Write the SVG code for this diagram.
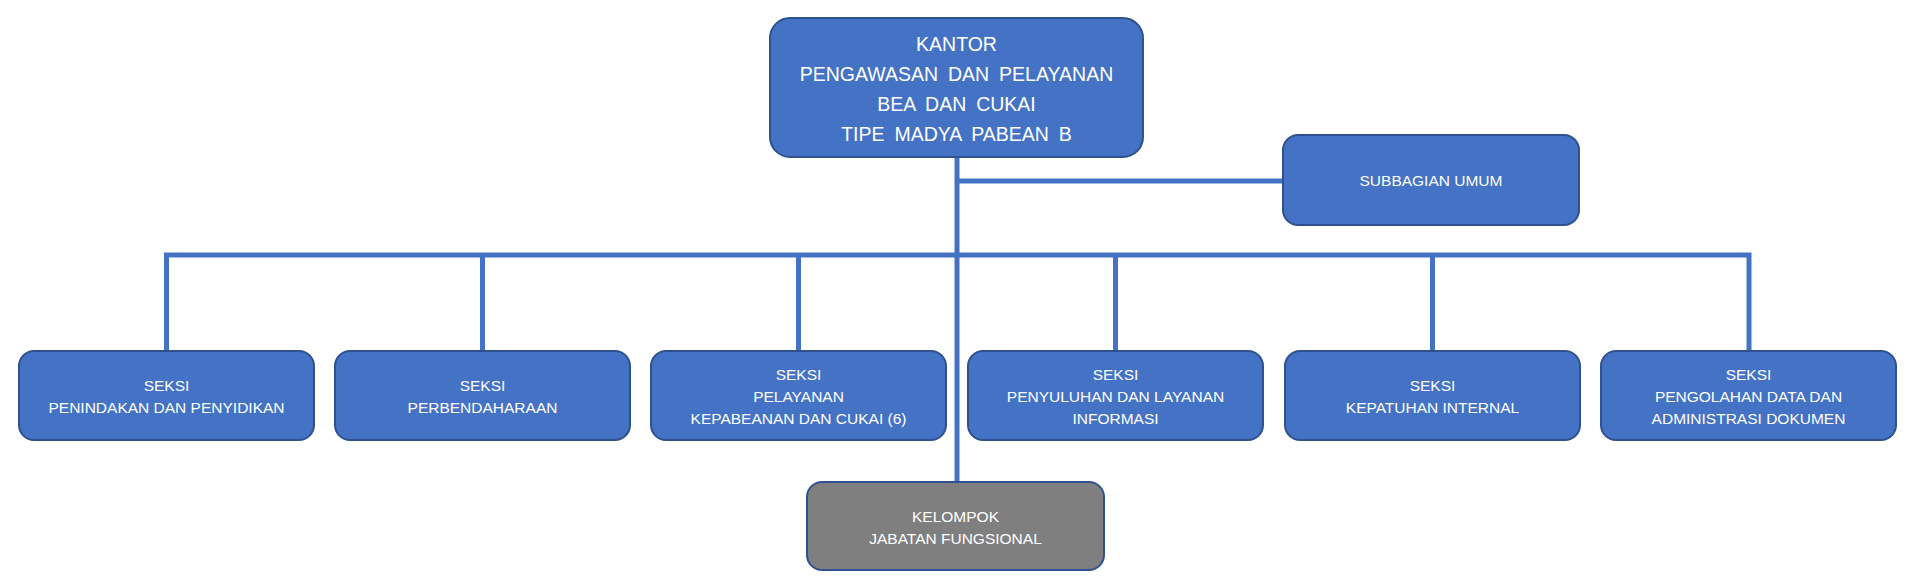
<svg xmlns="http://www.w3.org/2000/svg" width="1919" height="587" viewBox="0 0 1919 587">
<style>
.box{fill:#4472C4;stroke:#2F528F;stroke-width:2}
.gray{fill:#7F7F7F;stroke:#2F528F;stroke-width:2}
.t{font-family:"Liberation Sans",Arial,sans-serif;font-size:15.5px;fill:#FFFFFF;text-anchor:middle}
.big{font-family:"Liberation Sans",Arial,sans-serif;font-size:19.5px;fill:#FFFFFF;text-anchor:middle;word-spacing:4.5px}
.c{fill:none;stroke:#4472C4;stroke-width:5}
</style>
<rect width="1919" height="587" fill="#FFFFFF"/>
<g id="connectors">
<path class="c" d="M957 157V482"/>
<path class="c" d="M957 181H1283"/>
<path class="c" d="M166.5 351V255H1749V351"/>
<path class="c" d="M482.5 255V351M798.5 255V351M1115.5 255V351M1432.5 255V351"/>
</g>
<g id="kantor">
<rect class="box" x="770" y="18" width="373" height="139" rx="20"/>
<text class="big" x="956.5" y="51">KANTOR</text>
<text class="big" x="956.5" y="81">PENGAWASAN DAN PELAYANAN</text>
<text class="big" x="956.5" y="111">BEA DAN CUKAI</text>
<text class="big" x="956.5" y="141">TIPE MADYA PABEAN B</text>
</g>
<g id="subbagian-umum">
<rect class="box" x="1283" y="135" width="296" height="90" rx="15"/>
<text class="t" x="1431" y="186">SUBBAGIAN UMUM</text>
</g>
<g id="seksi-penindakan">
<rect class="box" x="19" y="351" width="295" height="89" rx="15"/>
<text class="t" x="166.5" y="390.5">SEKSI</text>
<text class="t" x="166.5" y="412.5">PENINDAKAN DAN PENYIDIKAN</text>
</g>
<g id="seksi-perbendaharaan">
<rect class="box" x="335" y="351" width="295" height="89" rx="15"/>
<text class="t" x="482.5" y="390.5">SEKSI</text>
<text class="t" x="482.5" y="412.5">PERBENDAHARAAN</text>
</g>
<g id="seksi-pelayanan">
<rect class="box" x="651" y="351" width="295" height="89" rx="15"/>
<text class="t" x="798.5" y="379.5">SEKSI</text>
<text class="t" x="798.5" y="401.5">PELAYANAN</text>
<text class="t" x="798.5" y="423.5">KEPABEANAN DAN CUKAI (6)</text>
</g>
<g id="seksi-penyuluhan">
<rect class="box" x="968" y="351" width="295" height="89" rx="15"/>
<text class="t" x="1115.5" y="379.5">SEKSI</text>
<text class="t" x="1115.5" y="401.5">PENYULUHAN DAN LAYANAN</text>
<text class="t" x="1115.5" y="423.5">INFORMASI</text>
</g>
<g id="seksi-kepatuhan">
<rect class="box" x="1285" y="351" width="295" height="89" rx="15"/>
<text class="t" x="1432.5" y="390.5">SEKSI</text>
<text class="t" x="1432.5" y="412.5">KEPATUHAN INTERNAL</text>
</g>
<g id="seksi-pengolahan">
<rect class="box" x="1601" y="351" width="295" height="89" rx="15"/>
<text class="t" x="1748.5" y="379.5">SEKSI</text>
<text class="t" x="1748.5" y="401.5">PENGOLAHAN DATA DAN</text>
<text class="t" x="1748.5" y="423.5">ADMINISTRASI DOKUMEN</text>
</g>
<g id="kelompok-jabatan">
<rect class="gray" x="807" y="482" width="297" height="88" rx="15"/>
<text class="t" x="955.5" y="522">KELOMPOK</text>
<text class="t" x="955.5" y="544">JABATAN FUNGSIONAL</text>
</g>
</svg>
